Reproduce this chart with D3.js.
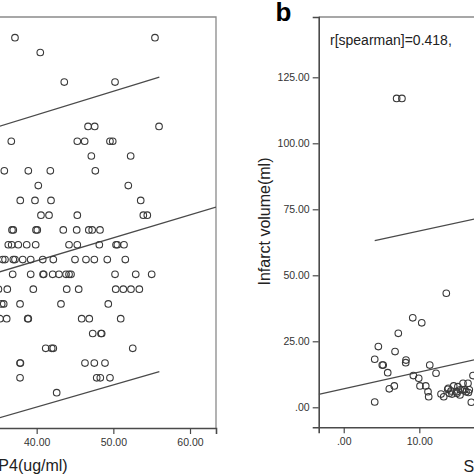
<!DOCTYPE html>
<html><head><meta charset="utf-8">
<script src="https://cdn.jsdelivr.net/npm/d3@7"></script>
<style>
html,body{margin:0;padding:0;background:#fff;overflow:hidden;}
svg{display:block;font-family:"Liberation Sans",Arial,sans-serif;}
</style></head>
<body><svg id="c" width="474" height="474"></svg>
<script>
// ---- Panel a (left): x = FABP4 (ug/ml), y = integer score
const leftX = [37.17,55.43, 40.47, 43.60,50.22, 46.70,47.57,55.96,
 36.69,45.30,46.26,49.56,49.92, 47.13,52.26, 35.78,38.91,41.78,47.65,
 40.21,51.95, 37.86,39.78,41.87,53.57, 40.56,41.61,45.30,53.91,54.43,
 36.78,36.95,39.91,40.08,43.47,45.22,46.80,47.24,48.26,
 36.30,36.74,37.60,38.70,39.87,44.22,45.30,48.17,50.35,50.52,51.39,
 35.57,35.87,36.95,37.17,38.18,39.22,40.79,42.17,45.00,46.43,47.52,49.21,51.56,
 36.87,39.22,40.83,40.92,42.09,42.91,43.83,44.22,44.48,50.22,52.92,55.00,
 35.02,36.17,39.56,43.92,45.48,50.31,51.30,52.30,53.39,
 35.44,35.70,37.83,43.17,49.34,
 35.22,36.09,38.83,38.91,45.87,46.86,50.96,
 47.31,48.39,48.48,
 41.18,41.96,42.17,52.53,
 37.83,37.88,46.30,47.52,48.91,
 37.83,47.83,48.30,49.56,
 42.61];
const leftY = [24,24, 23, 21,21, 18,18,18,
 17,17,17,17,17, 16,16, 15,15,15,15,
 14,14, 13,13,13,13, 12,12,12,12,12,
 11,11,11,11,11,11,11,11,11,
 10,10,10,10,10,10,10,10,10,10,10,
 9,9,9,9,9,9,9,9,9,9,9,9,9,
 8,8,8,8,8,8,8,8,8,8,8,8,
 7,7,7,7,7,7,7,7,7,
 6,6,6,6,6,
 5,5,5,5,5,5,5,
 4,4,4,
 3,3,3,3,
 2,2,2,2,2,
 1,1,1,1,
 0];
const leftFitX = [30, 63.39], leftFitY = [7.37, 12.54];
const leftUpX = [35.0, 56.0], leftUpY = [17.99, 21.33];
const leftLoX = [35.0, 56.0], leftLoY = [-1.72, 1.42];
const leftTicksX = [40, 50, 60];

// ---- Panel b (right): x = S..., y = Infarct volume (ml)
const rightX = [4.10,4.10,4.58,5.10,5.22,5.82,6.03,6.69,6.79,7.22,8.24,8.20,9.13,9.21,9.92,10.09,10.32,10.85,11.15,11.24,11.38,12.21,12.87,13.23,13.57,13.76,13.84,13.97,14.20,14.33,14.55,14.95,14.99,15.10,15.38,15.42,15.69,15.78,16.01,16.18,16.44,16.50,16.61,16.88,17.10];
const rightY = [2.0,18.2,23.0,16.0,16.0,13.1,7.0,8.1,21.1,28.0,17.9,16.9,33.9,12.0,11.0,8.1,32.0,8.1,5.9,4.0,16.0,12.9,5.0,4.0,43.2,6.8,7.2,5.3,6.2,5.0,8.1,5.9,5.3,7.8,4.7,6.6,6.6,9.1,6.6,5.9,9.1,5.6,6.6,1.9,12.0];
const rightOutX = [7.0, 7.7], rightOutY = [117.0, 117.0];
const rightFitX = [-3.31, 30], rightFitY = [4.9, 26.1];
const rightUpX = [4.1, 30], rightUpY = [63.1, 79.2];
const rightTicksX = [0, 10];
const rightTicksY = [0, 25, 50, 75, 100, 125];
const statText = "r[spearman]=0.418,";
const panelLabel = "b";

const svg = d3.select("#c");
svg.append("rect").attr("width",474).attr("height",474).attr("fill","#fff");

const lineCol = "#4a4a4a", frameCol = "#8a8a8a", ptCol = "#3a3a3a", txtCol = "#333";
const fmt = v => { const s = d3.format(".2f")(v); return s.startsWith("0.") ? s.slice(1) : s; };

function panel(o){
  const g = svg.append("g");
  const x = d3.scaleLinear().domain(o.xd).range(o.xr);
  const y = d3.scaleLinear().domain(o.yd).range(o.yr);
  const [x0,x1] = o.xr, [y0,y1] = o.yr; // y0 bottom, y1 top
  const cid = "clip"+o.id;
  svg.append("clipPath").attr("id",cid).append("rect")
    .attr("x",x0).attr("y",y1).attr("width",x1-x0).attr("height",y0-y1);
  // frame (top/right lighter)
  g.append("path").attr("d",`M${x0},${y1}H${x1}V${y0}`).attr("fill","none")
    .attr("stroke",frameCol).attr("stroke-width",1.3);
  const inner = g.append("g").attr("clip-path",`url(#${cid})`);
  const ln = d3.line().x(d=>x(d[0])).y(d=>y(d[1]));
  o.lines.forEach(L=>{
    inner.append("path").attr("d",ln(L[0].map((v,i)=>[v,L[1][i]])))
      .attr("fill","none").attr("stroke",lineCol).attr("stroke-width",1.3);
  });
  o.pts.forEach(P=>{
    inner.selectAll(null).data(P[0].map((v,i)=>[v,P[1][i]])).enter().append("circle")
      .attr("cx",d=>x(d[0])).attr("cy",d=>y(d[1])).attr("r",3.3)
      .attr("fill","none").attr("stroke",ptCol).attr("stroke-width",1.1);
  });
  // axes
  const ax = g.append("g").attr("transform",`translate(0,${y0})`)
    .call(d3.axisBottom(x).tickValues(o.xt).tickFormat(fmt).tickSize(6).tickPadding(4.5));
  const ay = g.append("g").attr("transform",`translate(${x0},0)`)
    .call(d3.axisLeft(y).tickValues(o.yt).tickFormat(fmt).tickSize(6).tickPadding(3));
  [ax,ay].forEach(a=>{
    a.select(".domain").attr("stroke",lineCol).attr("stroke-width",1.6);
    a.selectAll(".tick line").attr("stroke",lineCol).attr("stroke-width",1.2);
    a.selectAll(".tick text").attr("fill",txtCol).style("font-size","10.5px")
      .style("font-family","'Liberation Sans',Arial,sans-serif");
  });
  return {x,y,g};
}

// Left panel
panel({id:"L", xd:[30,63.39], xr:[-40,216], yd:[-2.39,25.4], yr:[428,17],
  xt:leftTicksX, yt:[],
  lines:[[leftFitX,leftFitY],[leftUpX,leftUpY],[leftLoX,leftLoY]],
  pts:[[leftX,leftY]]});
svg.append("text").attr("x",67.7).attr("y",471).attr("text-anchor","end")
  .attr("fill","#222").style("font-size","16px").text("FABP4(ug/ml)");

// Right panel
panel({id:"R", xd:[-3.31,30], xr:[318.7,570.5], yd:[-7.58,147.84], yr:[427.3,17],
  xt:rightTicksX, yt:rightTicksY,
  lines:[[rightFitX,rightFitY],[rightUpX,rightUpY]],
  pts:[[rightX,rightY],[rightOutX,rightOutY]]});
svg.append("text").attr("x",463.5).attr("y",471.5)
  .attr("fill","#222").style("font-size","16px").text("S");
svg.append("text").attr("transform","translate(269.5,221.5) rotate(-90)")
  .attr("text-anchor","middle").attr("fill","#222").style("font-size","16px")
  .text("Infarct volume(ml)");
svg.append("text").attr("x",330).attr("y",45).attr("fill","#222")
  .style("font-size","14px").text(statText);
svg.append("text").attr("x",275.5).attr("y",21).attr("fill","#000")
  .style("font-size","26px").style("font-weight","bold").text(panelLabel);
</script></body></html>
